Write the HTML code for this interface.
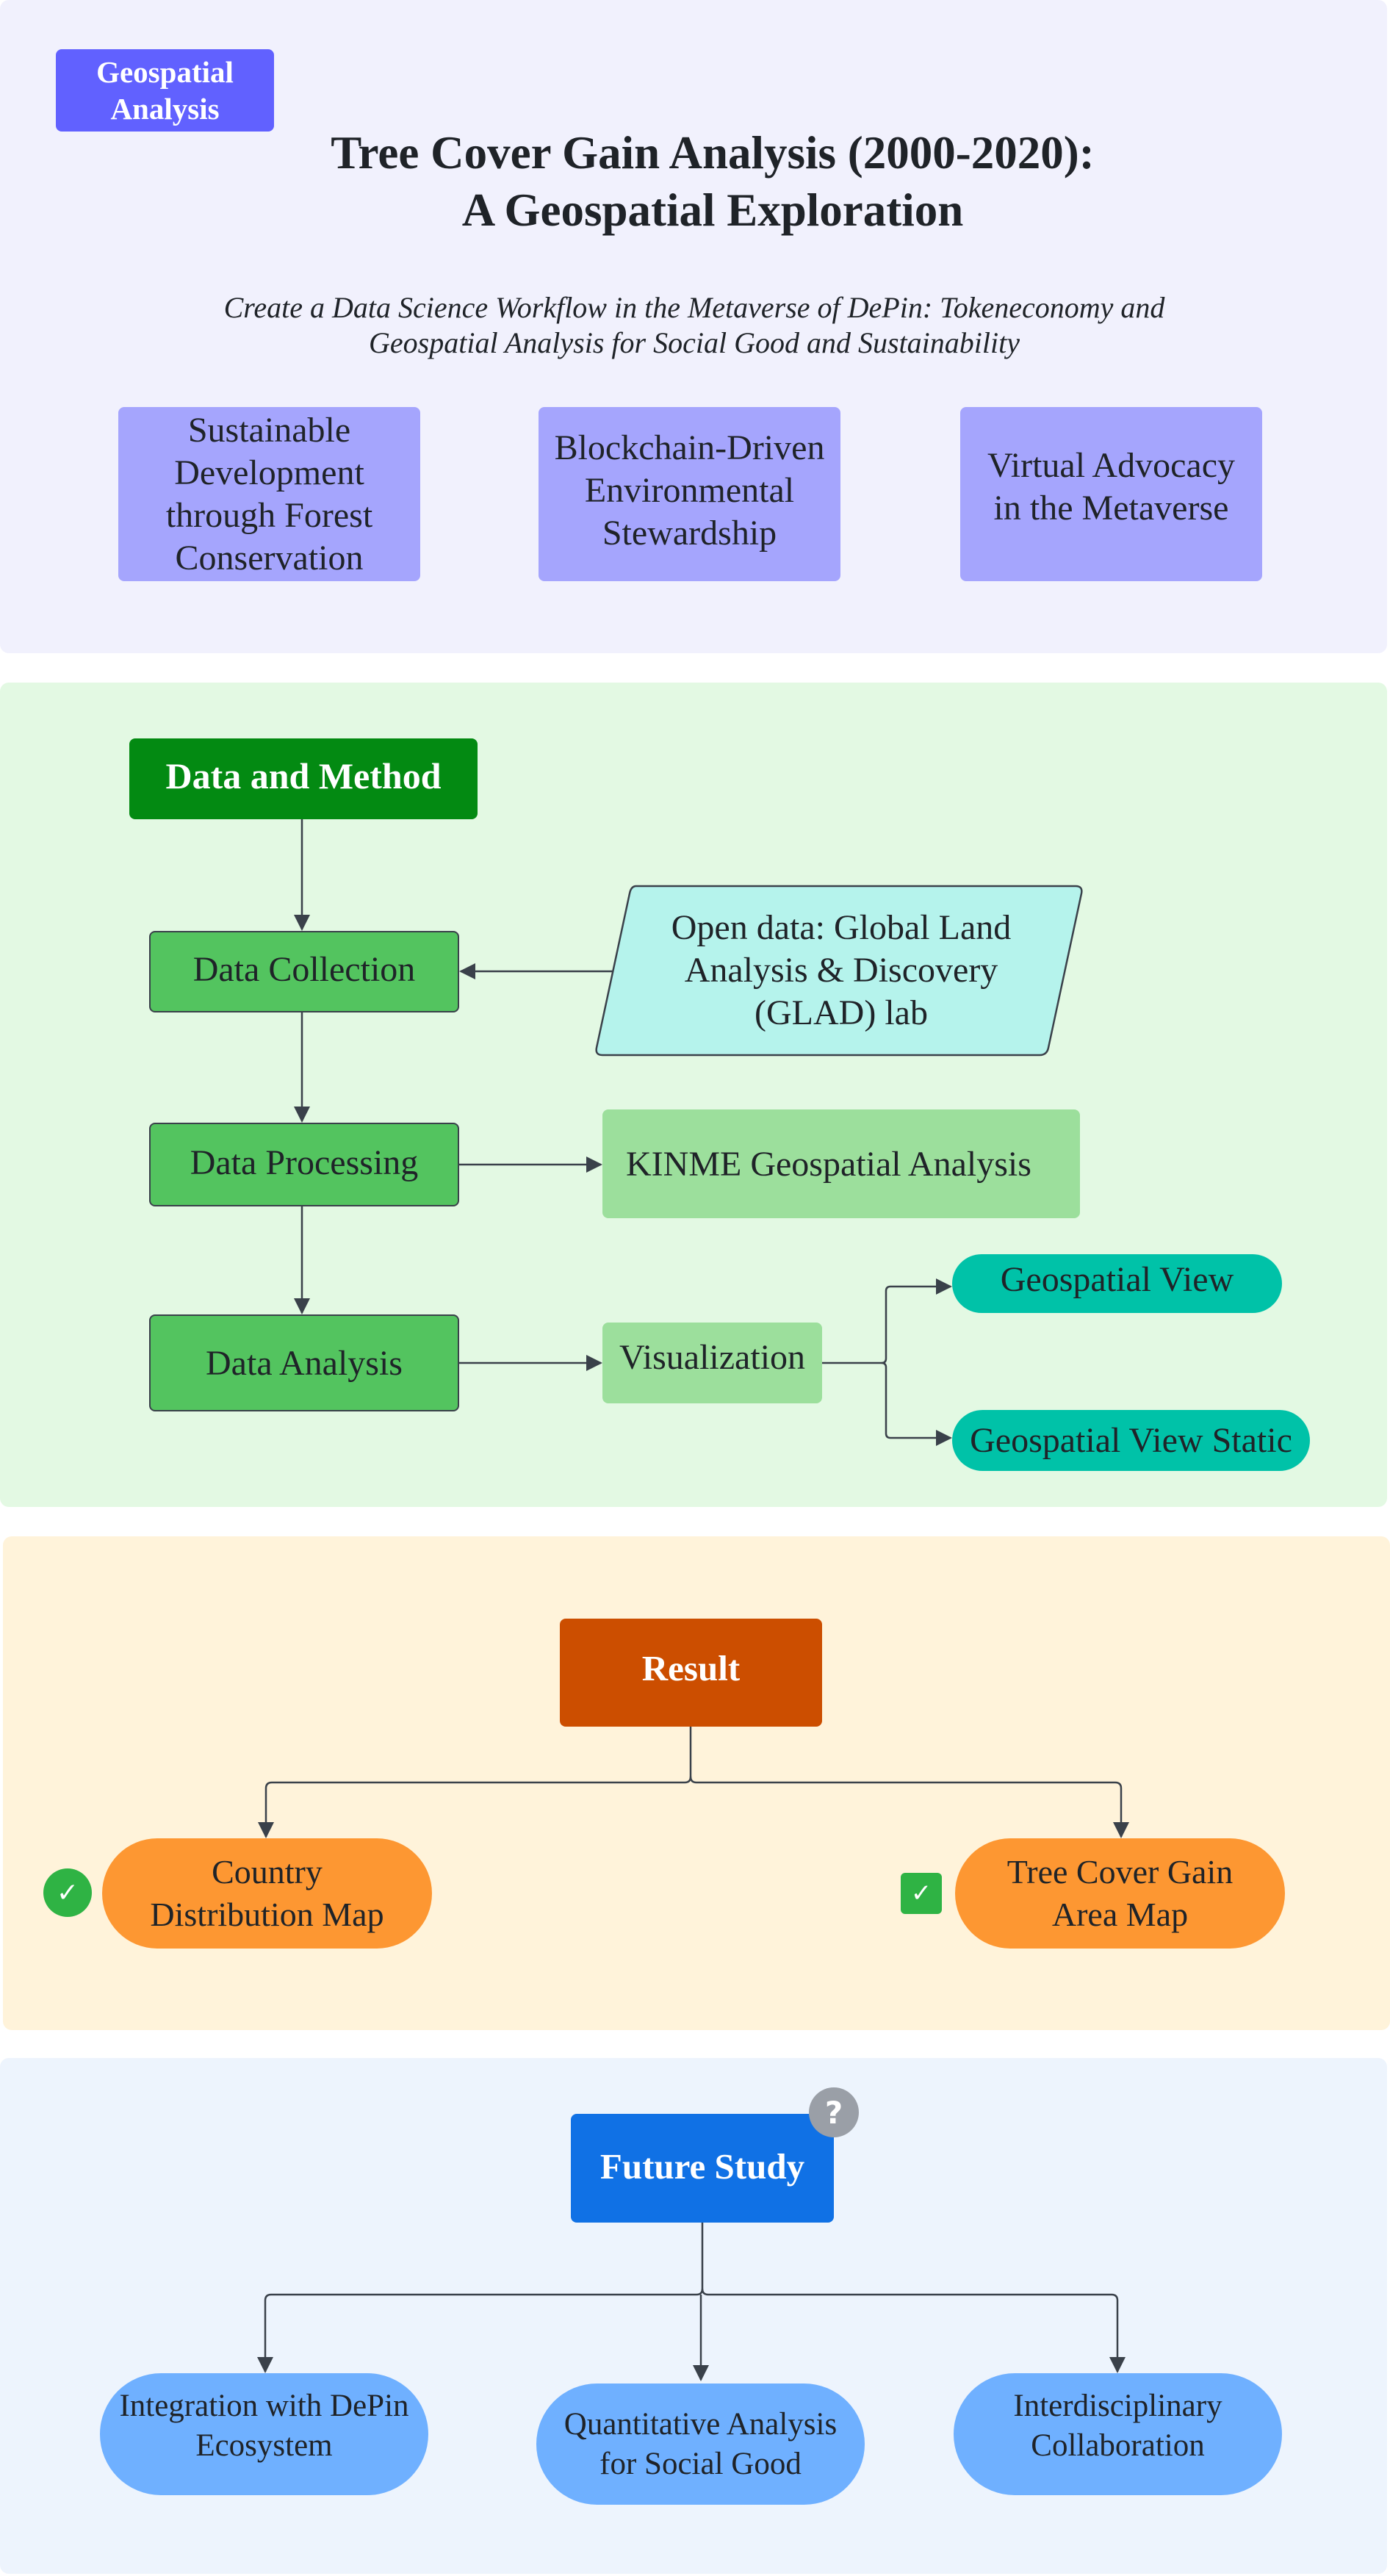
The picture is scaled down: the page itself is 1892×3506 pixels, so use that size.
<!DOCTYPE html>
<html><head><meta charset="utf-8"><style>
body{margin:0;width:1892px;height:3506px;position:relative;background:#fff;font-family:"Liberation Serif",serif;overflow:hidden}
.p{position:absolute;border-radius:12px}
.b{position:absolute;display:flex;align-items:center;justify-content:center;text-align:center;box-sizing:border-box;color:#1f2328;white-space:nowrap}
svg{position:absolute;left:0;top:0}
</style></head><body>
<div class="p" style="left:0;top:0;width:1888px;height:889px;background:#f1f1fd"></div>
<div class="p" style="left:0;top:929px;width:1888px;height:1122px;background:#e3f9e3"></div>
<div class="p" style="left:4px;top:2091px;width:1888px;height:672px;background:#fff3da"></div>
<div class="p" style="left:0;top:2801px;width:1888px;height:702px;background:#edf4fd"></div>

<div class="b" style="left:76px;top:67px;width:297px;height:112px;background:#6161ff;border-radius:8px;color:#fff;font-weight:bold;font-size:41px;line-height:50px">Geospatial<br>Analysis</div>
<div class="b" style="left:200px;top:167px;width:1540px;height:160px;font-weight:bold;font-size:63px;line-height:78px">Tree Cover Gain Analysis (2000-2020):<br>A Geospatial Exploration</div>
<div class="b" style="left:150px;top:393px;width:1590px;height:100px;font-style:italic;font-size:40px;line-height:48px">Create a Data Science Workflow in the Metaverse of DePin: Tokeneconomy and<br>Geospatial Analysis for Social Good and Sustainability</div>
<div class="b" style="left:161px;top:554px;width:411px;height:237px;background:#a5a5fd;border-radius:8px;font-size:48px;line-height:58px">Sustainable<br>Development<br>through Forest<br>Conservation</div>
<div class="b" style="left:733px;top:554px;width:411px;height:237px;background:#a5a5fd;border-radius:8px;font-size:48px;line-height:58px;padding-bottom:10px">Blockchain-Driven<br>Environmental<br>Stewardship</div>
<div class="b" style="left:1307px;top:554px;width:411px;height:237px;background:#a5a5fd;border-radius:8px;font-size:48px;line-height:58px;padding-bottom:20px">Virtual Advocacy<br>in the Metaverse</div>

<svg width="1892" height="3506">
<defs><marker id="m" markerWidth="22" markerHeight="22" refX="20" refY="11" orient="auto" markerUnits="userSpaceOnUse"><path d="M0,0 L22,11 L0,22z" fill="#3a414a"/></marker></defs>
<g stroke="#3a414a" stroke-width="2.5" fill="none">
<path d="M411 1115 V1265" marker-end="url(#m)"/>
<path d="M411 1378 V1526" marker-end="url(#m)"/>
<path d="M411 1642 V1787" marker-end="url(#m)"/>
<path d="M842 1322 H627" marker-end="url(#m)"/>
<path d="M625 1585 H818" marker-end="url(#m)"/>
<path d="M625 1855 H818" marker-end="url(#m)"/>
<path d="M1119 1855 H1200 Q1206 1855 1206 1849 V1757 Q1206 1751 1212 1751 H1294" marker-end="url(#m)"/>
<path d="M1200 1855 Q1206 1855 1206 1861 V1951 Q1206 1957 1212 1957 H1294" marker-end="url(#m)"/>
<path d="M940 2350 V2418 Q940 2426 932 2426 H370 Q362 2426 362 2434 V2500" marker-end="url(#m)"/>
<path d="M940 2418 Q940 2426 948 2426 H1518 Q1526 2426 1526 2434 V2500" marker-end="url(#m)"/>
<path d="M956 3025 V3115 Q956 3123 948 3123 H369 Q361 3123 361 3131 V3228" marker-end="url(#m)"/>
<path d="M956 3115 Q956 3123 964 3123 H1513 Q1521 3123 1521 3131 V3228" marker-end="url(#m)"/>
<path d="M954 3123 V3239" marker-end="url(#m)"/>
</g>
<path d="M866 1206 H1464 Q1474 1206 1472 1216 L1427 1426 Q1425 1436 1415 1436 H820 Q810 1436 812 1426 L857 1216 Q859 1206 866 1206z" fill="#b5f3ec" stroke="#3a414a" stroke-width="2.5"/>
</svg>

<div class="b" style="left:176px;top:1005px;width:474px;height:110px;background:#038a12;border-radius:8px;color:#fff;font-weight:bold;font-size:50px;padding-bottom:8px">Data and Method</div>
<div class="b" style="left:203px;top:1267px;width:422px;height:111px;background:#53c45f;border:2.5px solid #3a414a;border-radius:8px;font-size:48px;padding-bottom:6px">Data Collection</div>
<div class="b" style="left:203px;top:1528px;width:422px;height:114px;background:#53c45f;border:2.5px solid #3a414a;border-radius:8px;font-size:48px;padding-bottom:6px">Data Processing</div>
<div class="b" style="left:203px;top:1789px;width:422px;height:132px;background:#53c45f;border:2.5px solid #3a414a;border-radius:8px;font-size:48px">Data Analysis</div>
<div class="b" style="left:860px;top:1206px;width:570px;height:230px;font-size:48px;line-height:58px">Open data: Global Land<br>Analysis &amp; Discovery<br>(GLAD) lab</div>
<div class="b" style="left:820px;top:1510px;width:650px;height:148px;background:#9cdf9c;border-radius:8px;font-size:48px;justify-content:flex-start;padding-left:32px">KINME Geospatial Analysis</div>
<div class="b" style="left:820px;top:1800px;width:299px;height:110px;background:#9cdf9c;border-radius:8px;font-size:48px;padding-bottom:16px">Visualization</div>
<div class="b" style="left:1296px;top:1707px;width:449px;height:80px;background:#00c2a8;border-radius:40px;font-size:48px;padding-bottom:12px">Geospatial View</div>
<div class="b" style="left:1296px;top:1919px;width:487px;height:83px;background:#00c2a8;border-radius:42px;font-size:48px">Geospatial View Static</div>

<div class="b" style="left:762px;top:2203px;width:357px;height:147px;background:#cc4e00;border-radius:8px;color:#fff;font-weight:bold;font-size:49px;padding-bottom:12px">Result</div>
<div class="b" style="left:139px;top:2502px;width:449px;height:150px;background:#fd9732;border-radius:75px;font-size:46px;line-height:58px">Country<br>Distribution Map</div>
<div class="b" style="left:1300px;top:2502px;width:449px;height:150px;background:#fd9732;border-radius:75px;font-size:46px;line-height:58px">Tree Cover Gain<br>Area Map</div>
<div class="b" style="left:59px;top:2543px;width:66px;height:66px;background:#2fb344;border-radius:50%;color:#fff;font-family:'DejaVu Sans',sans-serif;font-size:36px;font-weight:bold">✓</div>
<div class="b" style="left:1226px;top:2549px;width:56px;height:56px;background:#2fb344;border-radius:6px;color:#fff;font-family:'DejaVu Sans',sans-serif;font-size:34px;font-weight:bold">✓</div>

<div class="b" style="left:777px;top:2877px;width:358px;height:148px;background:#1071e5;border-radius:8px;color:#fff;font-weight:bold;font-size:49px;padding-bottom:6px">Future Study</div>
<div class="b" style="left:1101px;top:2841px;width:68px;height:68px;background:#9a9fa7;border-radius:50%;color:#fff;font-family:'DejaVu Sans',sans-serif;font-size:42px;font-weight:bold">?</div>
<div class="b" style="left:136px;top:3230px;width:447px;height:166px;background:#6fb0ff;border-radius:83px;font-size:43px;line-height:54px;padding-bottom:22px">Integration with DePin<br>Ecosystem</div>
<div class="b" style="left:730px;top:3244px;width:447px;height:165px;background:#6fb0ff;border-radius:83px;font-size:43px;line-height:54px">Quantitative Analysis<br>for Social Good</div>
<div class="b" style="left:1298px;top:3230px;width:447px;height:166px;background:#6fb0ff;border-radius:83px;font-size:43px;line-height:54px;padding-bottom:22px">Interdisciplinary<br>Collaboration</div>
</body></html>
